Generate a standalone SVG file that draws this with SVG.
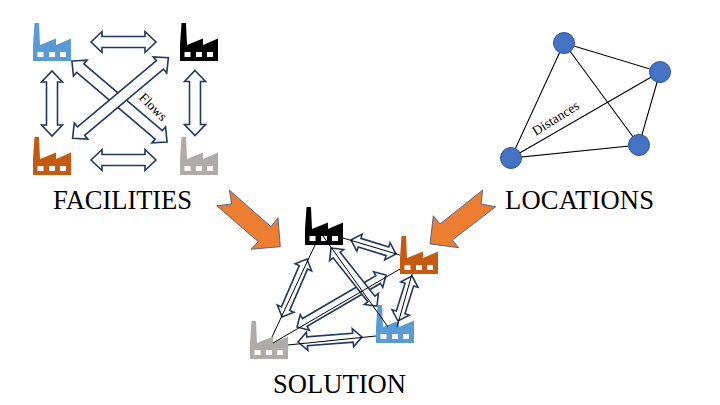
<svg xmlns="http://www.w3.org/2000/svg" width="720" height="405" viewBox="0 0 720 405">
<style>
.t{font-family:"Liberation Serif","Times New Roman",serif;fill:#000}
.big{font-size:26.6px}
.sm{font-size:13.5px}
.da{fill:#fff;stroke:#1f3864;stroke-width:1.6;stroke-linejoin:miter}
.ln{stroke:#000;stroke-width:1;fill:none}
.loc{stroke:#000;stroke-width:1.1;fill:none}
.nd{fill:#4472c4;stroke:#2f528f;stroke-width:1}
.win{fill:#fff}
.oa{fill:#ed7d31;stroke:#2f528f;stroke-width:.8}
</style>
<defs>
<g id="factory">
<path d="M1.5 0H6L7 22L23 15.500V22L38 15.500V38H0V22Z"/>
<rect class="win" x="4.500" y="29" width="6" height="5"/>
<rect class="win" x="16" y="29" width="6" height="5"/>
<rect class="win" x="27" y="29" width="6" height="5"/>
</g>
<path id="da65" class="da" d="M-32.500 0L-21.500-10.500V-5.500H21.500V-10.500L32.500 0L21.500 10.500V5.500H-21.500V10.500Z"/>
<path id="da125" class="da" d="M-62.500 0L-51.500-10.500V-5.500H51.500V-10.500L62.500 0L51.500 10.500V5.500H-51.500V10.500Z"/>
</defs>
<g id="connectors">
<use href="#da65" transform="translate(123.500 42)"/>
<use href="#da65" transform="translate(123.500 160)"/>
<use href="#da65" transform="translate(52 103.500) rotate(90)"/>
<use href="#da65" transform="translate(195 103) rotate(90)"/>
<use href="#da125" transform="translate(119.500 101.500) rotate(40.400)"/>
<use href="#da125" transform="translate(120.500 98) rotate(-40)"/>
<path class="da" transform="translate(294.500 288) rotate(-66.700)" d="M-31.500 0L-22.500-9V-4.500H22.500V-9L31.500 0L22.500 9V4.500H-22.500V9Z"/>
<path class="da" transform="translate(341.500 301) rotate(-30.300)" d="M-51.500 0L-42.500-9V-4.500H42.500V-9L51.500 0L42.500 9V4.500H-42.500V9Z"/>
<path class="da" transform="translate(330 339.500) rotate(-4.500)" d="M-32 0L-23-9V-4.500H23V-9L32 0L23 9V4.500H-23V9Z"/>
<path class="da" transform="translate(373.500 247) rotate(17.300)" d="M-23.600 0L-14.600-9V-4.500H14.600V-9L23.600 0L14.600 9V4.500H-14.600V9Z"/>
<path class="da" transform="translate(354 277) rotate(51.600)" d="M-37 0L-28-9V-4.500H28V-9L37 0L28 9V4.500H-28V9Z"/>
<path class="da" transform="translate(405 298.500) rotate(107.300)" d="M-23.600 0L-14.600-9V-4.500H14.600V-9L23.600 0L14.600 9V4.500H-14.600V9Z"/>
</g>
<g id="orange-arrows">
<path class="oa" d="M216.700 205.700L231.700 204L229.300 190L271 226.700L278 217.700L280.300 246.700L251 249.300L258.300 241.700Z"/>
<path class="oa" d="M482.700 190L481 204L495.700 206.700L452.300 240L458.700 247.700L430 244L433.300 215.700L440 224Z"/>
</g>
<g id="fac-blue" fill="#5b9bd5"><use href="#factory" x="33" y="23"/></g>
<g id="fac-black" fill="#000"><use href="#factory" x="180" y="23"/></g>
<g id="fac-orange" fill="#c55a11"><use href="#factory" x="33" y="137"/></g>
<g id="fac-gray" fill="#afabab"><use href="#factory" x="180" y="137"/></g>
<g id="sol-black" fill="#000"><use href="#factory" x="305" y="207"/></g>
<g id="sol-orange" fill="#c55a11"><use href="#factory" x="400" y="236"/></g>
<g id="sol-blue" fill="#5b9bd5"><use href="#factory" x="376" y="305"/></g>
<g id="sol-gray" fill="#afabab"><use href="#factory" x="250" y="321"/></g>
<g id="solution-lines">
<path class="ln" d="M315 245L272 337M273 343L400 269M288 345L376 336M343 238L400 255M323 236L388 327M412 274L397 327"/>
</g>
<g id="location-edges">
<path class="loc" d="M564 43L660 72L639 145L511 158L564 43L639 145M511 158L660 72"/>
</g>
<g id="loc1"><circle class="nd" cx="564" cy="43" r="10.500"/></g>
<g id="loc2"><circle class="nd" cx="660" cy="72" r="10.500"/></g>
<g id="loc3"><circle class="nd" cx="639" cy="145" r="10.500"/></g>
<g id="loc4"><circle class="nd" cx="511" cy="158" r="10.500"/></g>
<text class="t sm" text-anchor="middle" transform="translate(150 110) rotate(45)">Flows</text>
<text class="t sm" text-anchor="middle" transform="translate(558 122) rotate(-32)">Distances</text>
<text class="t big" x="53" y="209" textLength="139">FACILITIES</text>
<text class="t big" x="505" y="209" textLength="149">LOCATIONS</text>
<text class="t big" x="273" y="393" textLength="133">SOLUTION</text>
</svg>
